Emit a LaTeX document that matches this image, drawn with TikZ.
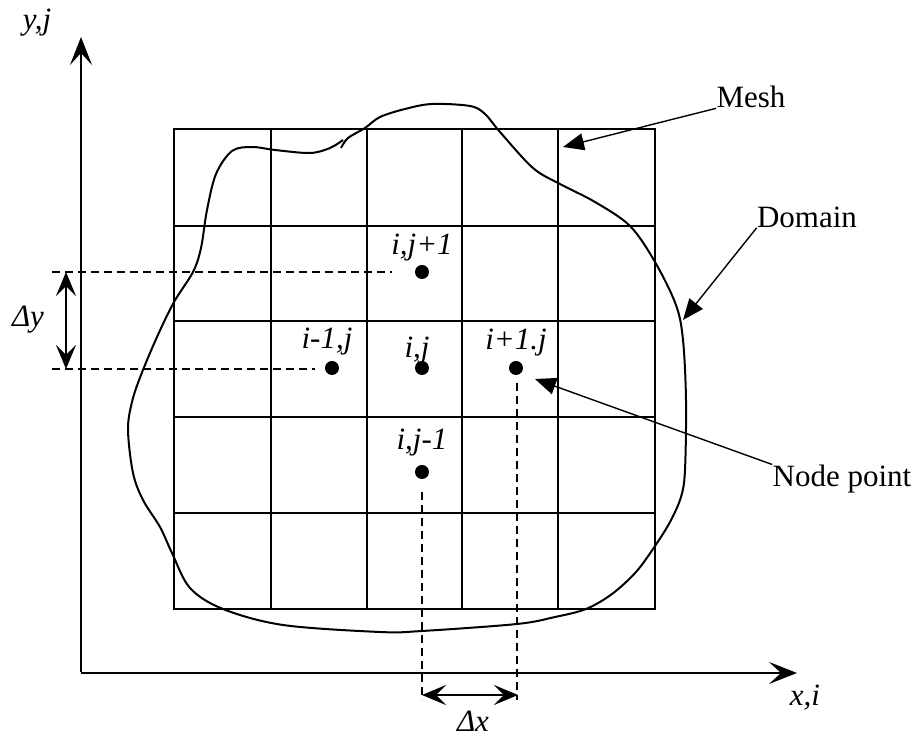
\documentclass[tikz,border=0pt]{standalone}
\usepackage{fontspec}
\setmainfont{Liberation Serif}
\usetikzlibrary{arrows.meta,positioning}

\tikzset{
  grid/.style={line width=1.1pt},
  axis/.style={line width=1.3pt,-{Stealth[length=14pt,width=11pt,inset=6pt]}},
  dimline/.style={line width=1.1pt,{Stealth[length=12pt,width=10pt,inset=5pt]}-{Stealth[length=12pt,width=10pt,inset=5pt]}},
  guide/.style={line width=0.75pt,dash pattern=on 4pt off 2.5pt},
  callout/.style={line width=0.7pt,-{Triangle[length=10.5pt,width=8.5pt]}},
  dot/.style={circle,fill,inner sep=0pt,minimum size=7pt},
  idx/.style={font=\fontsize{15.5}{18}\selectfont\itshape,inner sep=1pt},
  txt/.style={font=\fontsize{15.5}{18}\selectfont,inner sep=0pt}
}

\begin{document}
\begin{tikzpicture}[x=0.5pt,y=-0.5pt]
\useasboundingbox (0,0) rectangle (918,737);

% axes
\coordinate (O) at (81,673);
\coordinate (ytip) at (81,37);
\coordinate (xtip) at (797,673);
\draw[axis] ([yshift=0.65pt]O) -- (ytip);
\draw[axis] (O) -- (xtip);
\node[idx] (ylab) at (37,23) {y,j};
\node[idx] (xlab) at (805,698) {x,i};

% mesh
\draw[grid] (174,129) rectangle (655,609);
\foreach \x in {271,367,462,558}
  \draw[grid] (\x,128) -- (\x,609);
\foreach \y in {226,321,417,513}
  \draw[grid] (174,\y) -- (655,\y);

% domain
\draw[line width=1pt] plot[smooth,tension=0.55] coordinates {
  (341,148) (348,138) (365,128) (380,117) (405,109) (432,104) (470,106)
  (485,114) (500,132) (533,168) (560,184) (595,202) (630,226) (655,262)
  (676,305) (683,340) (686,400) (685,470) (681,497) (670,522) (655,546)
  (636,572) (612,594) (586,609) (555,617) (517,624) (422,631) (380,632)
  (283,625) (223,609) (190,588) (172,553) (160,527) (143,500) (133,473)
  (128,430) (132,402) (141,375) (157,337) (174,302) (193,272) (201,248)
  (207,210) (216,174) (232,151) (252,147) (275,150) (310,153) (330,148)
  (343,140)};

% node points
\node[dot] (n) at (422,368) {};
\node[dot] (nN) at (422,272) {};
\node[dot] (nS) at (422,472) {};
\node[dot] (nW) at (332,368) {};
\node[dot] (nE) at (516,368) {};
\node[idx,above=1.75pt of n,anchor=base,xshift=-2.5pt] (ln) {i,j};
\node[idx,above=5.25pt of nN,anchor=base] (lnN) {i,j+1};
\node[idx,above=7.75pt of nS,anchor=base] (lnS) {i,j-1};
\node[idx,above=6.25pt of nW,anchor=base,xshift=-2.5pt] (lnW) {i-1,j};
\node[idx,above=5.75pt of nE,anchor=base] (lnE) {i+1.j};

% guide lines
\coordinate (gN1) at (52,272);
\coordinate (gN2) at (392,272);
\coordinate (gC1) at (52,369);
\coordinate (gC2) at (315,369);
\coordinate (gS1) at (422,492);
\coordinate (gS2) at (422,700);
\coordinate (gE1) at (517,383);
\coordinate (gE2) at (517,700);
\draw[guide] (gN1) -- (gN2);
\draw[guide] (gC1) -- (gC2);
\draw[guide] (gS1) -- (gS2);
\draw[guide] (gE1) -- (gE2);

% spacings
\coordinate (dyT) at (66,272);
\coordinate (dyB) at (66,369);
\draw[dimline] (dyT) -- (dyB);
\node[idx] (dy) at (28,320) {Δy};
\coordinate (dxL) at (422,695);
\coordinate (dxR) at (518,695);
\draw[dimline] (dxL) -- (dxR);
\node[idx] (dx) at (473,721) {Δx};

% callouts
\node[txt] (mesh) at (751,97) {Mesh};
\node[txt] (domain) at (807,217) {Domain};
\node[txt] (np) at (842,479) {Node point};
\coordinate (meshtip) at (563,147);
\coordinate (domaintip) at (683,320);
\coordinate (nptip) at (535,379);
\draw[callout] (mesh.south west) -- (meshtip);
\draw[callout] (domain.south west) -- (domaintip);
\draw[callout] (np.north west) -- (nptip);
\end{tikzpicture}
\end{document}
